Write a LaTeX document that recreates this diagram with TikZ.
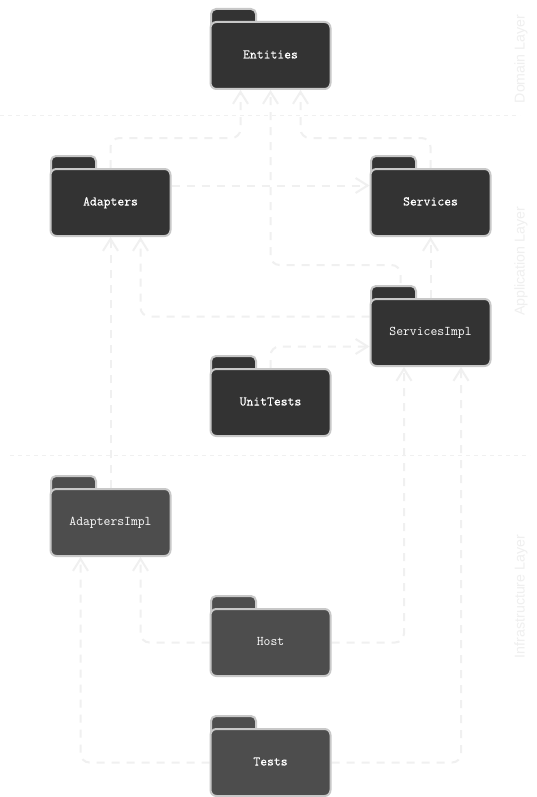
\documentclass[tikz,border=0pt]{standalone}
\usepackage{fontspec}
\setmainfont{Liberation Sans}
\newfontfamily\pkgfont{Latin Modern Mono}
\newfontfamily\pkgbold[FakeBold=0.25]{Latin Modern Mono}
\usetikzlibrary{arrows.meta,calc,backgrounds}
\definecolor{edgecol}{HTML}{F0F0F0}
\definecolor{bordercol}{HTML}{C8C8C8}
\definecolor{laycol}{HTML}{EFEFEF}
\definecolor{darkfill}{HTML}{333333}
\definecolor{midfill}{HTML}{4D4D4D}
\tikzset{
  x=1pt,y=-1pt,
  pkg/.style={draw=bordercol,line width=2pt,rounded corners=6pt,minimum width=120pt,minimum height=67pt,inner sep=0pt,text=white,text height=8pt,text depth=2pt,font=\fontsize{13.3pt}{15pt}\selectfont},
  tabbox/.style={draw=bordercol,line width=2pt,rounded corners=5pt,minimum width=45pt,minimum height=20pt,inner sep=0pt},
  dep/.style={draw=edgecol,line width=2pt,dash pattern=on 8pt off 7pt,rounded corners=9pt,-{Straight Barb[length=12pt,width=15pt,line width=2pt]}},
  layerline/.style={draw=edgecol,line width=1pt,dash pattern=on 4pt off 4pt},
  layerlabel/.style={text=laycol,rotate=90,font=\fontsize{14.2pt}{16pt}\selectfont,inner sep=0pt},
}
\newcommand{\folder}[6]{% name, cx, cy, fill, font, text
  \node[tabbox,fill=#4,anchor=north west] (#1tab) at (#2-60.5,#3-47) {};
  \node[pkg,fill=#4] (#1) at (#2,#3.5) {#5#6};
}
\begin{document}
\begin{tikzpicture}
\useasboundingbox (0,0) rectangle (536,797);
\folder{Entities}{270.5}{55}{darkfill}{\pkgbold}{Entities}
\folder{Adapters}{110.5}{202}{darkfill}{\pkgbold}{Adapters}
\folder{Services}{430.5}{202}{darkfill}{\pkgbold}{Services}
\folder{ServicesImpl}{430.5}{332}{darkfill}{\pkgfont}{ServicesImpl}
\folder{UnitTests}{270.5}{402}{darkfill}{\pkgbold}{UnitTests}
\folder{AdaptersImpl}{110.5}{522}{midfill}{\pkgfont}{AdaptersImpl}
\folder{Host}{270.5}{642}{midfill}{\pkgfont}{Host}
\folder{Tests}{270.5}{762}{midfill}{\pkgbold}{Tests}
\begin{scope}[on background layer]
\fill[white] (0,0) rectangle (536,797);
\coordinate (dl1) at (0,115.5); \coordinate (dl2) at (520,115.5);
\coordinate (il1) at (10,455.5); \coordinate (il2) at (530,455.5);
\draw[layerline] (dl1) -- (dl2);
\draw[layerline] (il1) -- (il2);
\node[layerlabel] (domain) at (521,59) {Domain Layer};
\node[layerlabel] (application) at (521,261.5) {Application Layer};
\node[layerlabel] (infra) at (521,596.5) {Infrastructure Layer};
\draw[dep] (Adapters.north) -- ++(0,-30) -| ([xshift=-30pt]Entities.south);
\draw[dep] (Services.north) -- ++(0,-30) -| ([xshift=30pt]Entities.south);
\draw[dep] ([xshift=-30pt]ServicesImpl.north) -- ++(0,-33) -| (Entities.south);
\draw[dep] ([yshift=17pt]Adapters.east) -- ([yshift=17pt]Services.west);
\draw[dep] (ServicesImpl.north) -- (Services.south);
\draw[dep] ([yshift=16pt]ServicesImpl.west) -| ([xshift=30pt]Adapters.south);
\draw[dep] (UnitTests.north) |- ([yshift=-14pt]ServicesImpl.west);
\draw[dep] (AdaptersImpl.north) -- (Adapters.south);
\draw[dep] (Host.west) -| ([xshift=30pt]AdaptersImpl.south);
\draw[dep] (Host.east) -| ([xshift=-26.5pt]ServicesImpl.south);
\draw[dep] (Tests.west) -| ([xshift=-30pt]AdaptersImpl.south);
\draw[dep] (Tests.east) -| ([xshift=30.5pt]ServicesImpl.south);
\end{scope}
\end{tikzpicture}
\end{document}
